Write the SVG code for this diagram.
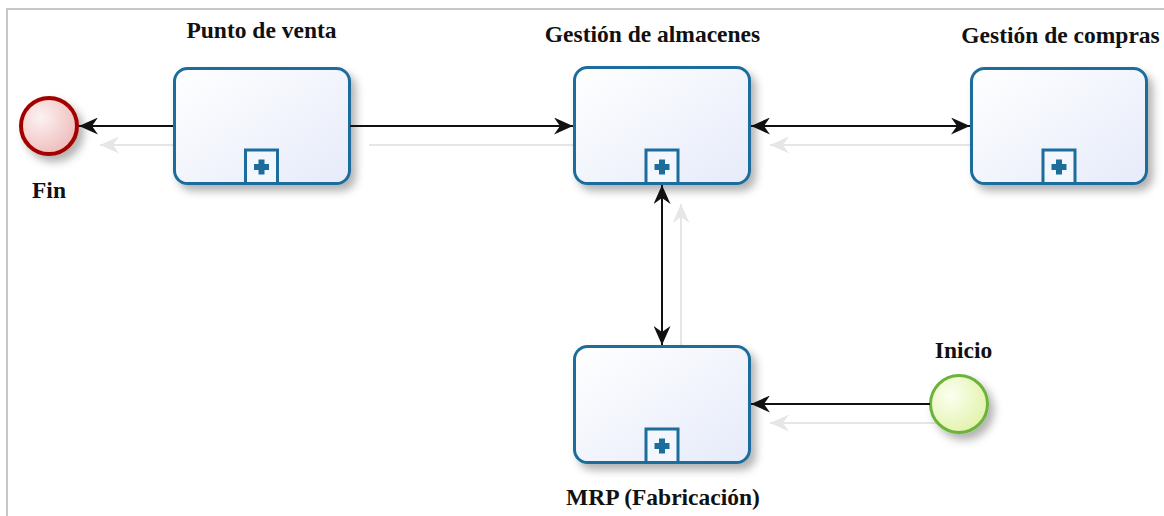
<svg xmlns="http://www.w3.org/2000/svg" width="1164" height="516" viewBox="0 0 1164 516">
<defs>
<style>
.lbl{font-family:"Liberation Serif","Times New Roman",serif;font-weight:bold;font-size:23.5px;fill:#111;text-anchor:middle}
.box{fill:url(#boxg);stroke:#1d6d9c;stroke-width:3;filter:url(#sh)}
.mk{fill:#f4f6fd;stroke:#1d6d9c;stroke-width:3}
.plus{fill:#1d6d9c}
.con{stroke:#111;stroke-width:2;fill:none;marker-end:url(#ah)}
.con2{stroke:#111;stroke-width:2;fill:none;marker-end:url(#ah);marker-start:url(#ah)}
.shd{stroke:#e6e6e6;stroke-width:2;fill:none;marker-end:url(#ahs)}
.frame{stroke:#c6c6c6;stroke-width:2;fill:none}
</style>
<linearGradient id="boxg" x1="0" y1="0" x2="1" y2="1">
<stop offset="0" stop-color="#ffffff"/>
<stop offset="1" stop-color="#e6ebfa"/>
</linearGradient>
<radialGradient id="fing" cx="0.35" cy="0.35" r="0.75">
<stop offset="0" stop-color="#fdf2f2"/>
<stop offset="1" stop-color="#eeb8b8"/>
</radialGradient>
<radialGradient id="inig" cx="0.35" cy="0.35" r="0.75">
<stop offset="0" stop-color="#fbfff0"/>
<stop offset="1" stop-color="#e0f2a6"/>
</radialGradient>
<filter id="sh" x="-20%" y="-20%" width="150%" height="160%">
<feDropShadow dx="5" dy="6" stdDeviation="4" flood-color="#000" flood-opacity="0.3"/>
</filter>
<marker id="ah" markerUnits="userSpaceOnUse" viewBox="0 0 19 17" markerWidth="19" markerHeight="17" refX="19" refY="8.5" orient="auto-start-reverse">
<path d="M0,0 L19,8.5 L0,17 L6,8.5 Z" fill="#111"/>
</marker>
<marker id="ahs" markerUnits="userSpaceOnUse" viewBox="0 0 19 17" markerWidth="19" markerHeight="17" refX="19" refY="8.5" orient="auto-start-reverse">
<path d="M0,0 L19,8.5 L0,17 L6,8.5 Z" fill="#e6e6e6"/>
</marker>
</defs>
<rect width="1164" height="516" fill="#fff"/>
<path class="frame" d="M7,516 V9 H1164"/>
<g id="connector-shadows">
<path class="shd" d="M192,145 H100"/>
<path class="shd" d="M369,145 H592"/>
<path class="shd" d="M989,145 H770"/>
<path class="shd" d="M681,364 V204"/>
<path class="shd" d="M949,423 H770"/>
</g>
<g id="fin">
<circle cx="49" cy="126" r="28" fill="url(#fing)" stroke="#a30000" stroke-width="4" filter="url(#sh)"/>
<text class="lbl" x="49" y="198">Fin</text>
</g>
<g id="punto-de-venta">
<rect class="box" x="174.5" y="68.5" width="175" height="115" rx="13"/>
<rect class="mk" x="245.5" y="150" width="32" height="33.5"/>
<rect class="plus" x="254" y="164" width="15" height="6"/>
<rect class="plus" x="258.5" y="159.5" width="6" height="15"/>
<text class="lbl" x="261.5" y="38">Punto de venta</text>
</g>
<g id="gestion-almacenes">
<rect class="box" x="574.5" y="67.5" width="175" height="116" rx="13"/>
<rect class="mk" x="646" y="150" width="32" height="33.5"/>
<rect class="plus" x="654.5" y="164" width="15" height="6"/>
<rect class="plus" x="659" y="159.5" width="6" height="15"/>
<text class="lbl" x="652.5" y="42">Gestión de almacenes</text>
</g>
<g id="gestion-compras">
<rect class="box" x="971.5" y="68.5" width="175" height="115" rx="13"/>
<rect class="mk" x="1043" y="150" width="32" height="33.5"/>
<rect class="plus" x="1051.5" y="164" width="15" height="6"/>
<rect class="plus" x="1056" y="159.5" width="6" height="15"/>
<text class="lbl" x="1060.5" y="43">Gestión de compras</text>
</g>
<g id="mrp">
<rect class="box" x="574.5" y="346.5" width="175" height="116" rx="13"/>
<rect class="mk" x="646" y="429" width="32" height="33.5"/>
<rect class="plus" x="654.5" y="443" width="15" height="6"/>
<rect class="plus" x="659" y="438.5" width="6" height="15"/>
<text class="lbl" x="663" y="505">MRP (Fabricación)</text>
</g>
<g id="inicio">
<circle cx="959" cy="404" r="28.5" fill="url(#inig)" stroke="#6cb33a" stroke-width="3" filter="url(#sh)"/>
<text class="lbl" x="963.5" y="358">Inicio</text>
</g>
<g id="connectors">
<path class="con" d="M173,126 H79"/>
<path class="con" d="M350,126 H573"/>
<path class="con2" d="M751,126 H970"/>
<path class="con2" d="M662,185 V345"/>
<path class="con" d="M930,404 H751"/>
</g>
</svg>
